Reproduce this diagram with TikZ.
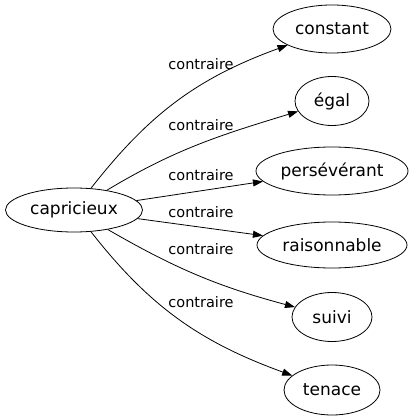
\documentclass[tikz,border=0pt]{standalone}
\usepackage{fontspec}
\setmainfont{DejaVu Sans}
\usetikzlibrary{shapes.geometric,arrows.meta}
\begin{document}
\begin{tikzpicture}[x=1pt,y=1pt,
  word/.style={draw,ellipse,inner sep=0pt,font=\fontsize{17}{20}\selectfont,line width=0.8pt},
  rel/.style={font=\fontsize{14.5}{17}\selectfont,anchor=base},
  link/.style={draw,line width=0.8pt,-{Triangle[length=10pt,width=7pt]}}]
\useasboundingbox (0,0) rectangle (413,-419);
\node[word,minimum width=137pt,minimum height=44pt] (cap) at (74,-210) {capricieux};
\node[word,minimum width=118pt,minimum height=48pt] (c1) at (332,-29) {constant};
\node[word,minimum width=74pt,minimum height=49pt] (c2) at (332,-101) {égal};
\node[word,minimum width=152pt,minimum height=48pt] (c3) at (332,-171) {persévérant};
\node[word,minimum width=150pt,minimum height=46pt] (c4) at (332,-245) {raisonnable};
\node[word,minimum width=80pt,minimum height=49pt] (c5) at (332,-317) {suivi};
\node[word,minimum width=96pt,minimum height=50pt] (c6) at (332,-390) {tenace};
\draw[link] (cap) to[out=52,in=200] (c1);
\draw[link] (cap) to[out=31,in=197] (c2);
\draw[link] (cap) -- (c3);
\draw[link] (cap) -- (c4);
\draw[link] (cap) to[out=-30,in=165] (c5);
\draw[link] (cap) to[out=-52,in=160] (c6);
\node[rel] (l1) at (201,-70) {contraire};
\node[rel] (l2) at (201,-131) {contraire};
\node[rel] (l3) at (201,-181) {contraire};
\node[rel] (l4) at (201,-217) {contraire};
\node[rel] (l5) at (201,-254) {contraire};
\node[rel] (l6) at (201,-307) {contraire};
\end{tikzpicture}
\end{document}
